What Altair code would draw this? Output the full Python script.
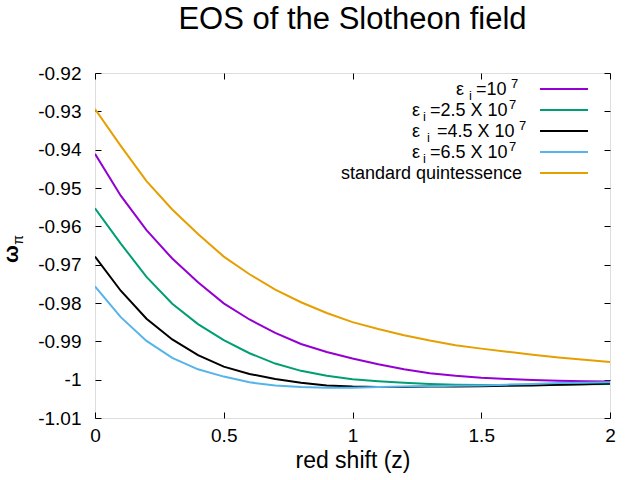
import altair as alt
import pandas as pd

z = [0.0, 0.1, 0.2, 0.3, 0.4, 0.5, 0.6, 0.7, 0.8, 0.9, 1.0,
     1.1, 1.2, 1.3, 1.4, 1.5, 1.6, 1.7, 1.8, 1.9, 2.0]

w_eps1 = [-0.9411, -0.9520, -0.9610, -0.9684, -0.9746, -0.9801, -0.9843, -0.9878, -0.9907, -0.9928, -0.9945,
          -0.9960, -0.9973, -0.9983, -0.9990, -0.9995, -0.9998, -1.0001, -1.0003, -1.0004, -1.0005]
w_eps25 = [-0.9553, -0.9645, -0.9732, -0.9802, -0.9855, -0.9897, -0.9931, -0.9958, -0.9977, -0.9990, -0.9999,
           -1.0004, -1.0008, -1.0011, -1.0013, -1.0014, -1.0014, -1.0014, -1.0013, -1.0012, -1.0011]
w_eps45 = [-0.9679, -0.9768, -0.9841, -0.9895, -0.9936, -0.9966, -0.9985, -0.9998, -1.0008, -1.0015, -1.0018,
           -1.0019, -1.0019, -1.0018, -1.0018, -1.0017, -1.0016, -1.0015, -1.0013, -1.0012, -1.0010]
w_eps65 = [-0.9757, -0.9837, -0.9899, -0.9943, -0.9973, -0.9992, -1.0007, -1.0015, -1.0019, -1.0021, -1.0021,
           -1.0019, -1.0018, -1.0017, -1.0016, -1.0015, -1.0013, -1.0011, -1.0009, -1.0008, -1.0007]
w_quint = [-0.9294, -0.9390, -0.9482, -0.9556, -0.9620, -0.9679, -0.9725, -0.9765, -0.9798, -0.9826, -0.9850,
           -0.9868, -0.9884, -0.9898, -0.9910, -0.9919, -0.9927, -0.9935, -0.9942, -0.9948, -0.9954]

series_names = ["eps1", "eps25", "eps45", "eps65", "quint"]
series_colors = ["#9400d3", "#009e73", "#000000", "#56b4e9", "#e69f00"]
series_values = [w_eps1, w_eps25, w_eps45, w_eps65, w_quint]

# legend label pieces: (base symbol, subscript, main text, superscript)
legend_base = ["ε", "ε", "ε", "ε", ""]
legend_sub = ["i", "i", "i", "i", ""]
legend_main = ["=10", "=2.5 X 10", "=4.5 X 10", "=6.5 X 10", "standard quintessence"]
legend_sup = ["7", "7", "7", "7", ""]

x_ticks = [0, 0.5, 1, 1.5, 2]
y_ticks = [-1.01, -1.0, -0.99, -0.98, -0.97, -0.96, -0.95, -0.94, -0.93, -0.92]

rows = []
for name, vals in zip(series_names, series_values):
    for zi, wi in zip(z, vals):
        rows.append({"series": name, "z": zi, "w": wi})
df = pd.DataFrame(rows)

FONT = "Liberation Sans"
minus_fix = "replace(format(datum.value, '~g'), '\u2212', '-')"

xscale = alt.Scale(domain=[0, 2], nice=False, zero=False)
yscale = alt.Scale(domain=[-1.01, -0.92], nice=False, zero=False)

lines = alt.Chart(df).mark_line(strokeWidth=2, clip=True).encode(
    x=alt.X("z:Q", scale=xscale,
            axis=alt.Axis(orient="bottom", values=x_ticks, labelExpr=minus_fix,
                          labelFontSize=19, labelFont=FONT, labelColor="black", labelFlush=False,
                          tickSize=6, offset=-6, tickColor="black", tickWidth=1,
                          domain=False, grid=False, labelPadding=8,
                          title="red shift (z)", titleFontSize=23, titleFont=FONT,
                          titleFontWeight="normal", titleColor="black", titlePadding=4)),
    y=alt.Y("w:Q", scale=yscale,
            axis=alt.Axis(orient="left", values=y_ticks, labelExpr=minus_fix,
                          labelFontSize=19, labelFont=FONT, labelColor="black", labelFlush=False,
                          tickSize=6, offset=-6, tickColor="black", tickWidth=1,
                          domain=False, grid=False, labelPadding=14, title=None)),
    color=alt.Color("series:N", scale=alt.Scale(domain=series_names, range=series_colors), legend=None),
    detail="series:N",
)

mirror = alt.Chart(df).mark_line(opacity=0).encode(
    x=alt.X("z:Q", scale=xscale,
            axis=alt.Axis(orient="top", values=x_ticks, labels=False, tickSize=6, offset=-6,
                          tickColor="black", domain=False, grid=False, title=None)),
    y=alt.Y("w:Q", scale=yscale,
            axis=alt.Axis(orient="right", values=y_ticks, labels=False, tickSize=6, offset=-6,
                          tickColor="black", domain=False, grid=False, title=None)),
    detail="series:N",
)

layers = [lines, mirror]

# legend layout (pixels inside the plot area), gnuplot style
row_y = [16, 37, 58, 79, 100]
base_x = [361, 317, 317, 317, 0]
sub_x = [374, 328, 332, 328, 0]
main_x = [381, 335, 342, 335, 427]
sup_x = [416, 414, 424, 414, 0]

for i in range(5):
    ldf = pd.DataFrame({"base": [legend_base[i]], "sub": [legend_sub[i]],
                        "main": [legend_main[i]], "sup": [legend_sup[i]]})
    yv = row_y[i]
    if legend_base[i]:
        layers.append(alt.Chart(ldf).mark_text(align="left", baseline="middle", fontSize=18, font=FONT,
                                               color="black").encode(
            x=alt.value(base_x[i]), y=alt.value(yv + 1), text="base:N"))
        layers.append(alt.Chart(ldf).mark_text(align="left", baseline="middle", fontSize=13, font=FONT,
                                               color="black").encode(
            x=alt.value(sub_x[i]), y=alt.value(yv + 7), text="sub:N"))
        layers.append(alt.Chart(ldf).mark_text(align="left", baseline="middle", fontSize=18, font=FONT,
                                               color="black").encode(
            x=alt.value(main_x[i]), y=alt.value(yv + 1), text="main:N"))
        layers.append(alt.Chart(ldf).mark_text(align="left", baseline="middle", fontSize=13, font=FONT,
                                               color="black").encode(
            x=alt.value(sup_x[i]), y=alt.value(yv - 5), text="sup:N"))
    else:
        layers.append(alt.Chart(ldf).mark_text(align="right", baseline="middle", fontSize=18, font=FONT,
                                               color="black").encode(
            x=alt.value(main_x[i]), y=alt.value(yv + 1), text="main:N"))
    layers.append(alt.Chart(ldf).mark_rule(color=series_colors[i], strokeWidth=2).encode(
        x=alt.value(445), x2=alt.value(493), y=alt.value(yv)))

ylab_df = pd.DataFrame({"t": ["ω"], "s": ["π"]})
ylab1 = alt.Chart(ylab_df).mark_text(angle=270, fontSize=21, fontWeight="bold", font=FONT,
                                     color="black", baseline="middle", align="center").encode(
    x=alt.value(-83), y=alt.value(181), text="t:N")
ylab2 = alt.Chart(ylab_df).mark_text(angle=270, fontSize=14, font=FONT,
                                     color="black", baseline="middle", align="center").encode(
    x=alt.value(-76), y=alt.value(167), text="s:N")
layers += [ylab1, ylab2]

chart = alt.layer(*layers).resolve_axis(x="independent", y="independent").properties(
    width=515, height=345,
    autosize=alt.AutoSizeParams(type="none"),
    padding={"left": 95, "top": 73, "right": 30, "bottom": 62},
    title=alt.TitleParams("EOS of the Slotheon field", fontSize=31, font=FONT,
                          fontWeight="normal", anchor="middle", color="black", offset=28),
).configure_view(stroke="black", strokeWidth=1).configure(font=FONT, background="white")

chart.save("out.html", embed_options={"renderer": "svg", "actions": False})
